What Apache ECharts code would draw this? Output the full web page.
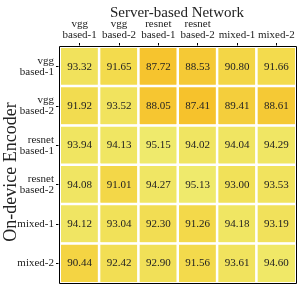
<!DOCTYPE html>
<html><head><meta charset="utf-8">
<script src="https://cdn.jsdelivr.net/npm/echarts@6/dist/echarts.min.js"></script>
<style>html,body{margin:0;padding:0;background:#fff}#c{width:299px;height:286px}</style>
</head><body><div id="c"></div>
<script>
const serverCats = ['vgg\nbased-1','vgg\nbased-2','resnet\nbased-1','resnet\nbased-2','mixed-1','mixed-2'];
const deviceCats = ['vgg\nbased-1','vgg\nbased-2','resnet\nbased-1','resnet\nbased-2','mixed-1','mixed-2'];
const rowVgg1 = [93.32, 91.65, 87.72, 88.53, 90.80, 91.66];
const rowVgg2 = [91.92, 93.52, 88.05, 87.41, 89.41, 88.61];
const rowRes1 = [93.94, 94.13, 95.15, 94.02, 94.04, 94.29];
const rowRes2 = [94.08, 91.01, 94.27, 95.13, 93.00, 93.53];
const rowMix1 = [94.12, 93.04, 92.30, 91.26, 94.18, 93.19];
const rowMix2 = [90.44, 92.42, 92.90, 91.56, 93.61, 94.60];
const rows = [rowVgg1, rowVgg2, rowRes1, rowRes2, rowMix1, rowMix2];
const data = [];
rows.forEach((r, i) => r.forEach((v, j) => data.push([j, i, v])));
const F = 'Liberation Serif, Times New Roman, serif';
const GL = 60, GT = 47, GR = 3, GB = 3;
const chart = echarts.init(document.getElementById('c'));
chart.setOption({
  animation: false,
  title: { text: 'Server-based Network', left: 172, top: 1, textAlign: 'center',
    textStyle: { fontFamily: F, fontSize: 15, fontWeight: 'normal', color: '#222' } },
  grid: { left: GL, right: GR, top: GT, bottom: GB, containLabel: false, outerBoundsMode: 'none' },
  graphic: [
    { type: 'rect', z: 100, silent: true,
      shape: { x: GL - 0.5, y: GT - 0.5, width: 299 - GL - GR + 1, height: 286 - GT - GB + 1 },
      style: { fill: 'none', stroke: '#000', lineWidth: 1 } },
    { type: 'text', z: 100, silent: true, x: 11, y: 172, rotation: Math.PI / 2,
      style: { text: 'On-device Encoder', fontFamily: F, fontSize: 18, fill: '#222',
        align: 'center', verticalAlign: 'middle' } }
  ],
  xAxis: { type: 'category', data: serverCats, position: 'top',
    axisLine: { show: false }, axisTick: { show: true, length: 4, alignWithLabel: true, lineStyle: { color: '#000' } },
    axisLabel: { interval: 0, align: 'center', fontFamily: F, fontSize: 11, color: '#222', lineHeight: 11, margin: 6 } },
  yAxis: { type: 'category', data: deviceCats, inverse: true,
    axisLine: { show: false }, axisTick: { show: true, length: 4, alignWithLabel: true, lineStyle: { color: '#000' } },
    axisLabel: { interval: 0, fontFamily: F, fontSize: 11, color: '#222', lineHeight: 11, margin: 6, align: 'right' } },
  visualMap: { show: false, min: 87.41, max: 95.15, dimension: 2,
    inRange: { color: ['#f6c22c', '#f3d94a', '#efea6c'] } },
  series: [{ type: 'heatmap', data: data,
    itemStyle: { borderColor: '#fff', borderWidth: 2.5 },
    label: { show: true, fontFamily: F, fontSize: 11, color: '#222',
      formatter: p => p.value[2].toFixed(2) } }]
});
</script></body></html>
